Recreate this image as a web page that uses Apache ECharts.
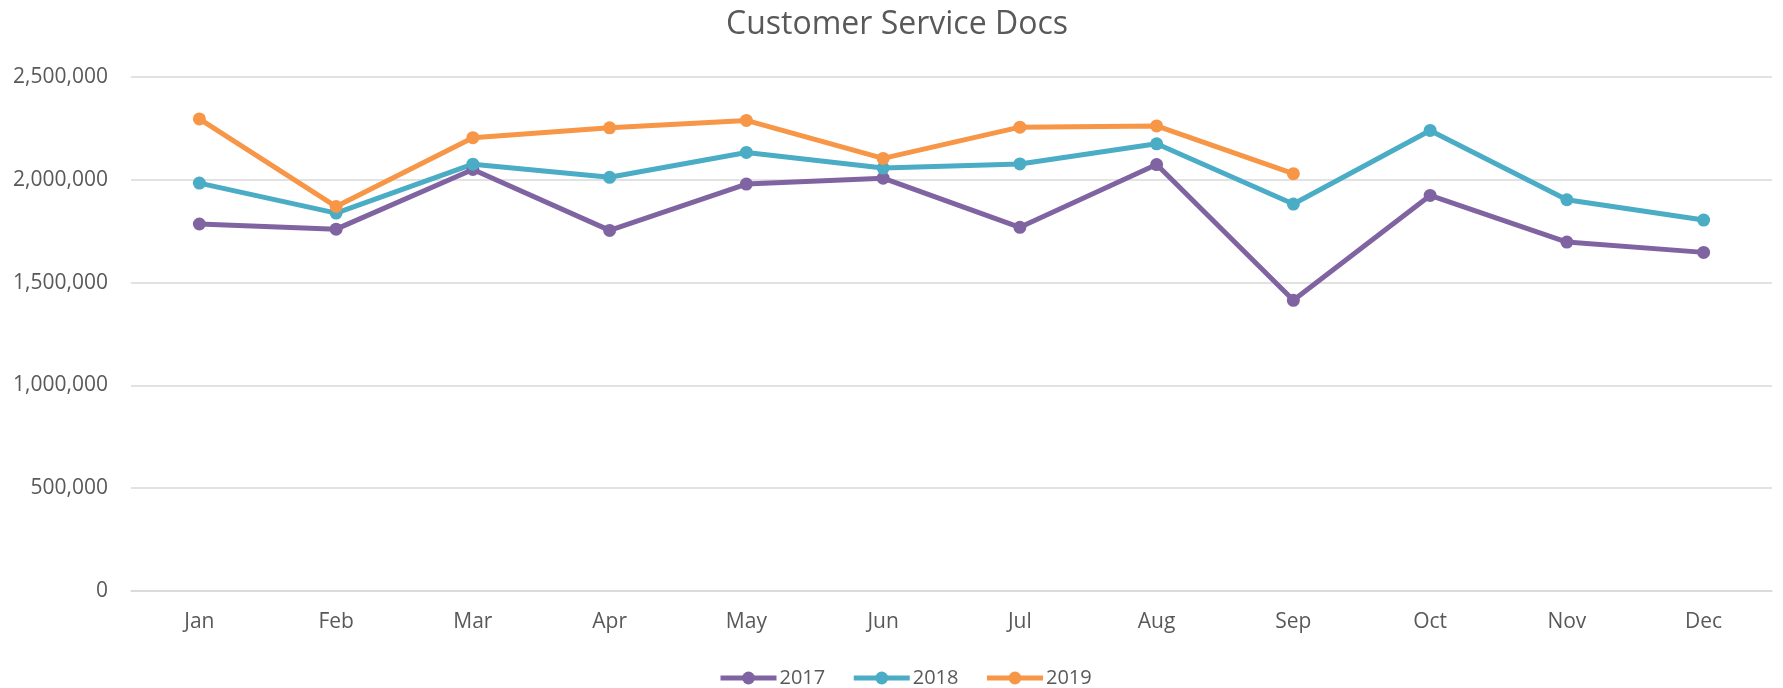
<!DOCTYPE html>
<html>
<head>
<meta charset="utf-8">
<title>Customer Service Docs</title>
<script src="https://cdn.jsdelivr.net/npm/echarts/dist/echarts.min.js"></script>
<style>
    html, body { margin: 0; padding: 0; background: #fff; }
    #echart1 { width: 1783px; height: 688px; }
</style>
</head>
<body>
<div id="echart1"></div>
<script>
var months = ['Jan', 'Feb', 'Mar', 'Apr', 'May', 'Jun', 'Jul', 'Aug', 'Sep', 'Oct', 'Nov', 'Dec'];
var years = ['2017', '2018', '2019'];
var docs2017 = [1785000, 1760000, 2050000, 1754000, 1979000, 2008000, 1769000, 2074000, 1414000, 1924000, 1697000, 1647000];
var docs2018 = [1984000, 1838000, 2076000, 2012000, 2133000, 2057000, 2077000, 2175000, 1882000, 2240000, 1903000, 1804000];
var docs2019 = [2296000, 1870000, 2205000, 2253000, 2289000, 2104000, 2256000, 2262000, 2030000];
var yTicks = [0, 500000, 1000000, 1500000, 2000000, 2500000];

echarts_1();

function echarts_1() {
    var myChart = echarts.init(document.getElementById('echart1'));
    var textColor = '#595959';
    var fontName = '"Open Sans", sans-serif';

    function makeSeries(name, data) {
        return {
            name: name,
            type: 'line',
            data: data,
            symbol: 'circle',
            symbolSize: 13,
            lineStyle: { width: 5 },
            emphasis: { disabled: true }
        };
    }

    var option = {
        animation: false,
        color: ['#8064A2', '#4BACC6', '#F79646'],
        textStyle: { fontFamily: fontName },
        title: {
            text: 'Customer Service Docs',
            left: 721,
            top: 4,
            textStyle: {
                color: textColor,
                fontSize: 32,
                fontWeight: 'normal',
                fontFamily: fontName
            }
        },
        legend: {
            data: years,
            left: 713,
            top: 663,
            itemWidth: 56,
            itemHeight: 16,
            itemGap: 26,
            lineStyle: { width: 5 },
            textStyle: {
                color: textColor,
                fontSize: 20,
                fontFamily: fontName,
                padding: [0, 0, 0, -2]
            }
        },
        grid: {
            left: 131,
            right: 11,
            top: 77,
            bottom: 97
        },
        xAxis: {
            type: 'category',
            data: months,
            boundaryGap: true,
            axisLine: { lineStyle: { color: '#d9d9d9', width: 1.5 } },
            axisTick: { show: false },
            axisLabel: {
                color: textColor,
                fontSize: 21,
                fontFamily: fontName,
                margin: 21
            }
        },
        yAxis: {
            type: 'value',
            min: yTicks[0],
            max: yTicks[yTicks.length - 1],
            interval: yTicks[1] - yTicks[0],
            axisLine: { show: false },
            axisTick: { show: false },
            splitLine: { lineStyle: { color: '#d9d9d9', width: 1.5 } },
            axisLabel: {
                color: textColor,
                fontSize: 21,
                fontFamily: fontName,
                margin: 23,
                formatter: function (v) { return v.toLocaleString('en-US'); }
            }
        },
        series: [
            makeSeries(years[0], docs2017),
            makeSeries(years[1], docs2018),
            makeSeries(years[2], docs2019)
        ]
    };

    myChart.setOption(option);
    window.addEventListener("resize", function () {
        myChart.resize();
    });
}
</script>
</body>
</html>
